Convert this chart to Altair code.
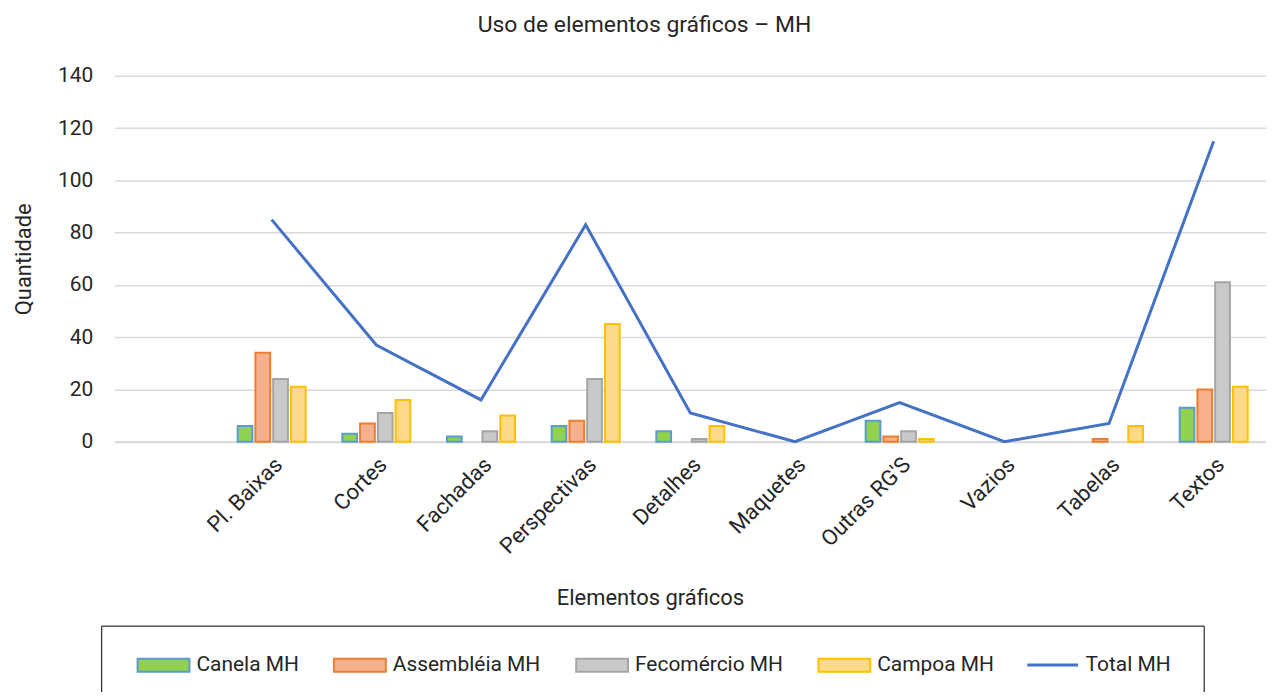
import altair as alt
import pandas as pd

categories = [" ", "Pl. Baixas", "Cortes", "Fachadas", "Perspectivas", "Detalhes",
              "Maquetes", "Outras RG'S", "Vazios", "Tabelas", "Textos"]
data_categories = categories[1:]
series = ["Canela MH", "Assembléia MH", "Fecomércio MH", "Campoa MH"]
canela = [6, 3, 2, 6, 4, 0, 8, 0, 0, 13]
assembleia = [34, 7, 0, 8, 0, 0, 2, 0, 1, 20]
fecomercio = [24, 11, 4, 24, 1, 0, 4, 0, 0, 61]
campoa = [21, 16, 10, 45, 6, 0, 1, 0, 6, 21]
total = [85, 37, 16, 83, 11, 0, 15, 0, 7, 115]
y_ticks = [0, 20, 40, 60, 80, 100, 120, 140]

fill_colors = ["#92D050", "#F5B08E", "#C9C9C9", "#FFD98A"]
stroke_colors = ["#5B9BD5", "#ED7D31", "#A5A5A5", "#FFC000"]

rows = []
for s, vals in zip(series, [canela, assembleia, fecomercio, campoa]):
    for c, v in zip(data_categories, vals):
        if v > 0:
            rows.append({"cat": c, "series": s, "value": v})
bars_df = pd.DataFrame(rows)
line_df = pd.DataFrame({"cat": data_categories, "series": ["Total MH"] * len(total), "value": total})

FONT = "Roboto"
TXT = "#262626"

x_scale = alt.Scale(domain=categories, paddingInner=1/3, paddingOuter=1/6)
y_scale = alt.Scale(domain=[0, 140], nice=False)

bar_legend = dict(title=None, orient="none", legendX=22, legendY=564,
                  direction="horizontal", columns=4,
                  symbolType="M-1,-0.25H1V0.25H-1Z", symbolSize=2704,
                  symbolStrokeWidth=2, labelFontSize=21, labelFont=FONT,
                  labelColor=TXT, labelOffset=6, columnPadding=31, labelLimit=300)

bars = alt.Chart(bars_df).mark_bar(strokeWidth=2).encode(
    x=alt.X("cat:N", scale=x_scale, sort=categories,
            axis=alt.Axis(title="Elementos gráficos", labelAngle=-45, labelFontSize=22,
                          labelPadding=12, titleFontSize=22, titleFontWeight="normal",
                          titleX=537, titleY=146, domainColor="#D9D9D9", domainWidth=2,
                          ticks=False, grid=False, labelColor=TXT, titleColor=TXT,
                          labelFont=FONT, titleFont=FONT)),
    xOffset=alt.XOffset("series:N", scale=alt.Scale(domain=series, paddingInner=0.17, paddingOuter=0.05)),
    y=alt.Y("value:Q", scale=y_scale,
            axis=alt.Axis(title="Quantidade", values=y_ticks, labelFontSize=21, titleFontSize=22,
                          titleFontWeight="normal", domain=False, ticks=False, labelPadding=22,
                          titlePadding=22, gridColor="#D9D9D9", gridWidth=1.5,
                          labelColor=TXT, titleColor=TXT, labelFont=FONT, titleFont=FONT)),
    fill=alt.Fill("series:N", scale=alt.Scale(domain=series, range=fill_colors),
                  legend=alt.Legend(**bar_legend)),
    stroke=alt.Stroke("series:N", scale=alt.Scale(domain=series, range=stroke_colors),
                      legend=alt.Legend(**bar_legend)),
)

line = alt.Chart(line_df).mark_line(strokeWidth=3).encode(
    x=alt.X("cat:N", scale=x_scale, sort=categories, bandPosition=0.5),
    y=alt.Y("value:Q", scale=y_scale),
    color=alt.Color("series:N", scale=alt.Scale(domain=["Total MH"], range=["#4472C4"]),
                    legend=alt.Legend(title=None, orient="none", legendX=914, legendY=564,
                                      symbolType="stroke", symbolSize=2600, symbolStrokeWidth=3,
                                      labelFontSize=21, labelFont=FONT, labelColor=TXT,
                                      labelOffset=6)),
)

frame = alt.Chart(alt.Data(values=[{"k": 1}])).mark_rect(
    fill=None, stroke="#000000", strokeWidth=1
).encode(
    x=alt.value(-13), x2=alt.value(1093), y=alt.value(552), y2=alt.value(640)
)

chart = alt.layer(bars, line, frame).resolve_scale(
    color="independent", fill="independent", stroke="independent"
).properties(
    width=1155, height=367,
    padding={"left": 107, "top": 67, "right": 0, "bottom": 250},
    autosize=alt.AutoSizeParams(type="none"),
    title=alt.TitleParams("Uso de elementos gráficos – MH", fontSize=23, font=FONT,
                          fontWeight="normal", color=TXT, anchor="middle", dx=-46, offset=28),
).configure_view(stroke=None)

chart.save("out.html", embed_options={"renderer": "svg", "actions": False})
